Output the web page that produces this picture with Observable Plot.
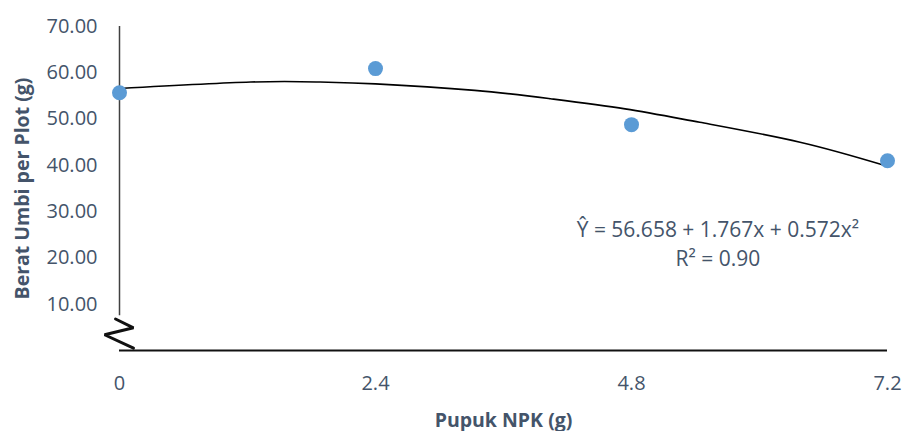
<!DOCTYPE html>
<html>
<head>
<meta charset="utf-8">
<script src="https://cdn.jsdelivr.net/npm/d3@7"></script>
<script src="https://cdn.jsdelivr.net/npm/@observablehq/plot@0.6"></script>
<style>
  html, body { margin: 0; padding: 0; background: #ffffff; }
</style>
</head>
<body>
<div id="chart"></div>
<script>
// Observed points
const npkDose = [0, 2.4, 4.8, 7.2];
const tuberWeight = [55.7, 60.9, 48.8, 41.0];

// Trend line
const trendX = [0, 1.23, 1.88, 2.4, 3.33, 4.04, 4.74, 5.44, 6.38, 7.2];
const trendY = [56.6, 58.0, 58.0, 57.6, 56.2, 54.4, 52.2, 49.3, 45.0, 39.8];

// Axis ticks and texts
const xTicks = [0, 2.4, 4.8, 7.2];
const yTicks = [10, 20, 30, 40, 50, 60, 70];
const xTitle = "Pupuk NPK (g)";
const yTitle = "Berat Umbi per Plot (g)";
const equationLines = ["Ŷ = 56.658 + 1.767x + 0.572x²", "R² = 0.90"];
const equationX = [5.61, 5.61];
const equationY = [25.9, 19.8];

// Axis-break zigzag and y-axis line extent
const breakX = [-0.037, 0.131, -0.14, 0.131];
const breakY = [6.8, 4.9, 3.4, 0.5];
const yAxisSpan = [7.5, 70];

const points = npkDose.map((x, i) => ({x, y: tuberWeight[i]}));
const trend = trendX.map((x, i) => ({x, y: trendY[i]}));
const eq = equationLines.map((t, i) => ({t, x: equationX[i], y: equationY[i]}));
const brk = breakX.map((x, i) => ({x, y: breakY[i]}));

const textColor = "#44546A";

const chart = Plot.plot({
  width: 907,
  height: 431,
  marginLeft: 119,
  marginRight: 20,
  marginTop: 26,
  marginBottom: 81,
  x: {domain: [0, 7.2]},
  y: {domain: [0, 70]},
  style: {fontFamily: "'Open Sans', sans-serif", color: textColor, background: "#ffffff", overflow: "visible"},
  marks: [
    Plot.axisY({ticks: yTicks, tickFormat: d => d.toFixed(2), tickSize: 0, tickPadding: 22, fontSize: 20, label: null}),
    Plot.axisX({ticks: xTicks, tickFormat: d => String(d), tickSize: 0, tickPadding: 25, fontSize: 20, label: null}),
    Plot.ruleX([0], {y1: yAxisSpan[0], y2: yAxisSpan[1], stroke: "#404040", strokeWidth: 1.5}),
    Plot.ruleY([0], {stroke: "#111", strokeWidth: 2.2}),
    Plot.line(brk, {x: "x", y: "y", stroke: "#111", strokeWidth: 3, strokeLinejoin: "miter"}),
    Plot.line(trend, {x: "x", y: "y", curve: "natural", stroke: "#000", strokeWidth: 1.6}),
    Plot.dot(points, {x: "x", y: "y", r: 7.5, fill: "#5B9BD5", stroke: "none"}),
    Plot.text(eq, {x: "x", y: "y", text: "t", fontSize: 21, fill: textColor, textAnchor: "middle", lineAnchor: "middle"}),
    Plot.text([yTitle], {frameAnchor: "left", rotate: -90, dx: -97, fontSize: 19.5, fontWeight: "bold", fill: textColor, textAnchor: "middle", lineAnchor: "middle"}),
    Plot.text([xTitle], {frameAnchor: "bottom", dy: 70, fontSize: 19.5, fontWeight: "bold", fill: textColor, textAnchor: "middle", lineAnchor: "middle"})
  ]
});
document.getElementById("chart").appendChild(chart);
</script>
</body>
</html>
